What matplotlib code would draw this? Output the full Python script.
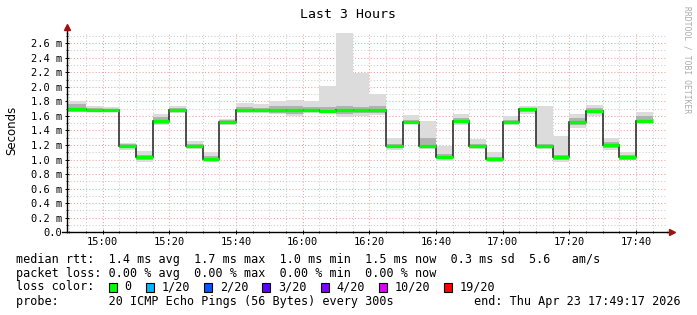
import matplotlib
matplotlib.use("Agg")
import matplotlib.pyplot as plt
import matplotlib.dates as mdates
from matplotlib.ticker import MultipleLocator, FuncFormatter
from matplotlib.patches import Rectangle
import pandas as pd

# ---- data (ms), one value per 5-minute step ----
median = [1.69, 1.68, 1.68, 1.19, 1.03, 1.53, 1.68, 1.19, 1.01, 1.51,
          1.68, 1.68, 1.68, 1.68, 1.68, 1.67, 1.68, 1.68, 1.68, 1.19,
          1.52, 1.18, 1.04, 1.53, 1.19, 1.01, 1.51, 1.69, 1.19, 1.03,
          1.51, 1.67, 1.20, 1.03, 1.53]
smoke_min = [1.66, 1.65, 1.65, 1.13, 0.97, 1.47, 1.64, 1.14, 0.97, 1.48,
             1.64, 1.64, 1.62, 1.60, 1.64, 1.64, 1.59, 1.60, 1.61, 1.13,
             1.49, 1.14, 0.98, 1.47, 1.15, 0.97, 1.47, 1.62, 1.15, 0.97,
             1.44, 1.60, 1.13, 0.99, 1.50]
smoke_max = [1.81, 1.74, 1.72, 1.23, 1.12, 1.62, 1.73, 1.26, 1.10, 1.56,
             1.78, 1.77, 1.81, 1.82, 1.80, 2.01, 2.74, 2.19, 1.90, 1.30,
             1.61, 1.53, 1.19, 1.63, 1.28, 1.10, 1.60, 1.73, 1.74, 1.32,
             1.63, 1.75, 1.30, 1.11, 1.65]
inner_lo = [1.66, 1.65, 1.66, 1.16, 1.00, 1.49, 1.66, 1.16, 0.99, 1.49,
            1.65, 1.65, 1.64, 1.63, 1.65, 1.64, 1.63, 1.64, 1.64, 1.16,
            1.50, 1.16, 1.01, 1.50, 1.16, 0.99, 1.49, 1.65, 1.16, 1.00,
            1.47, 1.64, 1.16, 1.00, 1.50]
inner_hi = [1.77, 1.71, 1.70, 1.22, 1.06, 1.58, 1.71, 1.22, 1.05, 1.54,
            1.72, 1.71, 1.74, 1.73, 1.72, 1.72, 1.74, 1.72, 1.74, 1.22,
            1.55, 1.30, 1.08, 1.57, 1.22, 1.04, 1.55, 1.71, 1.22, 1.06,
            1.57, 1.71, 1.24, 1.06, 1.60]

loss_labels = ["0", "1/20", "2/20", "3/20", "4/20", "10/20", "19/20"]
loss_colors = ["#00ff00", "#00b8ff", "#0059ff", "#5e00ff", "#7e00ff", "#dd00ff", "#ff0000"]

legend_lines = [
    "median rtt:  1.4 ms avg  1.7 ms max  1.0 ms min  1.5 ms now  0.3 ms sd  5.6   am/s",
    "packet loss: 0.00 % avg  0.00 % max  0.00 % min  0.00 % now",
]
probe_text = "probe:       20 ICMP Echo Pings (56 Bytes) every 300s"
end_text = "end: Thu Apr 23 17:49:17 2026"

t_start = pd.Timestamp("2026-04-23 14:49:17")
t_end = pd.Timestamp("2026-04-23 17:49:17")
step_ends = pd.date_range("2026-04-23 14:55", "2026-04-23 17:45", freq="5min")

W, H = 697, 315
MONO = "DejaVu Sans Mono"


def fx(x):
    return x / W


def fy(y):
    return 1 - y / H


fig = plt.figure(figsize=(W / 100, H / 100), dpi=100)
fig.patch.set_facecolor("white")

# plot area in pixels: x 67..667, y 33..232
ax = fig.add_axes([fx(67), fy(232.3), 600 / W, (232.3 - 33) / H])

edges = mdates.date2num([t_start] + list(step_ends))

# smoke
ax.stairs(smoke_max, edges, baseline=smoke_min, fill=True, color="#dcdcdc", lw=0)
ax.stairs(inner_hi, edges, baseline=inner_lo, fill=True, color="#b2b2b2", lw=0)
# median line + loss colour band
ax.stairs(median, edges, baseline=None, color="#202020", lw=1.1)
ax.hlines(median, edges[:-1], edges[1:], color=loss_colors[0], lw=2.4, capstyle="butt")

ax.set_xlim(mdates.date2num(t_start), mdates.date2num(t_end))
ax.set_ylim(0, 2.74)

# grids
ax.set_axisbelow(True)
ax.yaxis.set_major_locator(MultipleLocator(0.2))
ax.yaxis.set_minor_locator(MultipleLocator(0.1))
ax.xaxis.set_major_locator(mdates.MinuteLocator(byminute=[0, 20, 40]))
ax.xaxis.set_minor_locator(mdates.MinuteLocator(byminute=range(0, 60, 5)))
ax.xaxis.set_major_formatter(mdates.DateFormatter("%H:%M"))
ax.yaxis.set_major_formatter(FuncFormatter(lambda v, p: "0.0" if v == 0 else f"{v:.1f} m"))
ax.grid(which="major", color="#f0a0a0", lw=0.75, linestyle=(0, (1, 2)))
ax.grid(which="minor", color="#cccccc", lw=0.75, linestyle=(0, (1, 2)))

ax.tick_params(which="major", length=3, width=0.7, direction="inout", labelsize=7.5, pad=2)
ax.tick_params(which="minor", length=2, width=0.6, direction="inout")
for lab in ax.get_xticklabels() + ax.get_yticklabels():
    lab.set_family(MONO)

for s in ["top", "right"]:
    ax.spines[s].set_visible(False)
for s in ["left", "bottom"]:
    ax.spines[s].set_color("black")
    ax.spines[s].set_linewidth(1)

# axis extensions with arrows
ax.plot([0, 0], [1, 1.025], transform=ax.transAxes, color="black", lw=1, clip_on=False)
ax.plot([0], [1.028], transform=ax.transAxes, marker="^", color="#a01010", ms=4, clip_on=False)
ax.plot([-0.008, 0], [0, 0], transform=ax.transAxes, color="black", lw=1, clip_on=False)
ax.plot([1, 1.006], [0, 0], transform=ax.transAxes, color="black", lw=1, clip_on=False)
ax.plot([1.009], [0], transform=ax.transAxes, marker=">", color="#a01010", ms=4, clip_on=False)

# texts
fig.text(fx(348), fy(14), "Last 3 Hours", ha="center", va="center", family=MONO, size=9.5)
fig.text(fx(12), fy(130), "Seconds", rotation=90, ha="center", va="center", size=8.5)
fig.text(fx(687), fy(60), "RRDTOOL / TOBI OETIKER", rotation=-90, ha="center", va="center",
         family=MONO, size=5.8, color="#aaaaaa")

lsize = 8.5
cw = lsize * 100 / 72 * 0.602
for i, line in enumerate(legend_lines):
    fig.text(fx(16), fy(259 + 14 * i), line, ha="left", va="center", family=MONO, size=lsize)

fig.text(fx(16), fy(287), "loss color:", ha="left", va="center", family=MONO, size=lsize)
cursor = 109
for lab, col in zip(loss_labels, loss_colors):
    fig.add_artist(Rectangle((fx(cursor), fy(291.5)), 8 / W, 9 / H, transform=fig.transFigure,
                             facecolor=col, edgecolor="black", lw=0.8))
    fig.text(fx(cursor + 8.5 + cw), fy(287), lab, ha="left", va="center", family=MONO, size=lsize)
    cursor += 8.5 + cw * (len(lab) + 3)

fig.text(fx(16), fy(301), probe_text, ha="left", va="center", family=MONO, size=lsize)
fig.text(fx(681), fy(301), end_text, ha="right", va="center", family=MONO, size=lsize)

fig.savefig("out.png", dpi=100)
